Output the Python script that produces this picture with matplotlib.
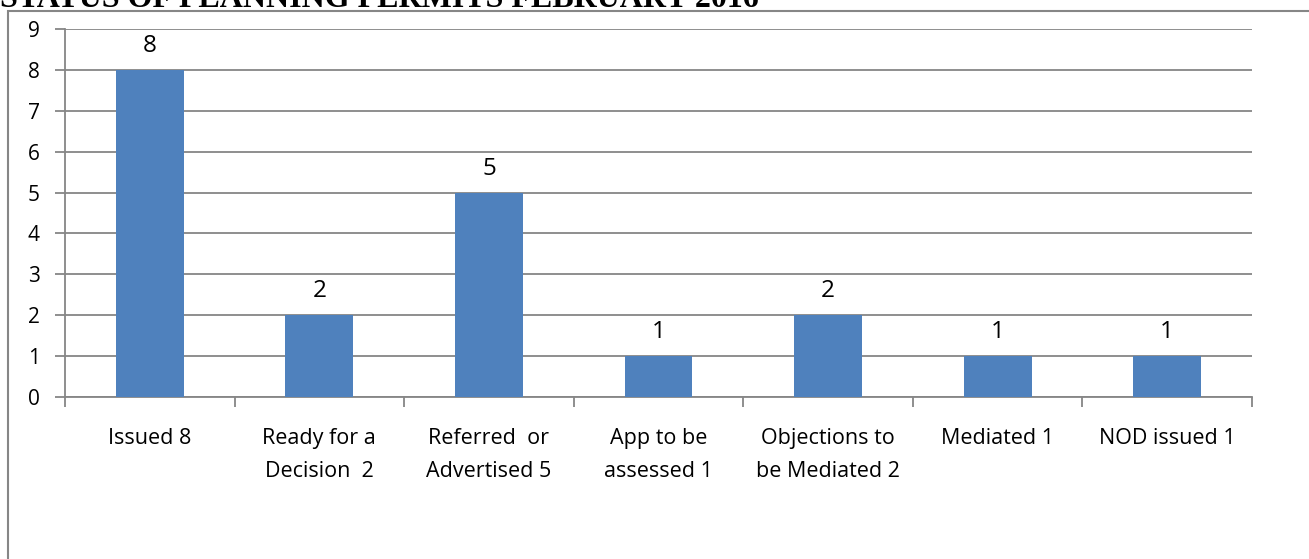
import matplotlib.pyplot as plt
from matplotlib.patches import Rectangle
import numpy

plt.rcParams["font.family"] = ["Open Sans", "DejaVu Sans"]

title = "STATUS OF PLANNING PERMITS FEBRUARY 2016"
categories = ["Issued 8", "Ready for a\nDecision  2", "Referred  or\nAdvertised 5",
              "App to be\nassessed 1", "Objections to\nbe Mediated 2", "Mediated 1", "NOD issued 1"]
values = [8, 2, 5, 1, 2, 1, 1]

W, H = 1309, 559
fig = plt.figure(figsize=(W / 100, H / 100), dpi=100)
ax = fig.add_axes([65 / W, 1 - 397 / H, (1252 - 65) / W, (397 - 29) / H])

grid_col = "#868686"
x = numpy.arange(len(values))
bars = ax.bar(x, values, width=0.4, color="#4F81BD", zorder=3)
for b, v in zip(bars, values):
    ax.annotate(str(v), (b.get_x() + b.get_width() / 2, v), xytext=(0, 8.5),
                textcoords="offset points", ha="center", va="bottom", fontsize=17.5)

ax.set_xlim(-0.5, len(values) - 0.5)
ax.set_ylim(0, 9)
ax.set_yticks(range(10))
ax.yaxis.grid(True, color=grid_col, linewidth=1.3, zorder=0)
ax.set_xticks(numpy.arange(-0.5, len(values)), minor=False)
ax.set_xticklabels([])
ax.set_xticks(x, minor=True)
ax.set_xticklabels(categories, minor=True, fontsize=15.5, linespacing=1.75)
ax.tick_params(axis="x", which="minor", length=0, pad=22)
ax.tick_params(axis="x", which="major", length=7, color=grid_col, width=1.3)
ax.tick_params(axis="y", length=7, color=grid_col, width=1.3, labelsize=15, pad=11)
for s in ["top", "right"]:
    ax.spines[s].set_visible(False)
for s in ["left", "bottom"]:
    ax.spines[s].set_color(grid_col)
    ax.spines[s].set_linewidth(1.3)

# outer chart frame
fig.patches.append(Rectangle((8 / W, -0.1), 1.1, 1.1 - 11 / H, transform=fig.transFigure,
                             fill=False, edgecolor=grid_col, linewidth=1.5))

# title is cut off at the top edge, as in the source
fig.text(0.0, 1 - 7 / H, title, ha="left", va="baseline", fontsize=23,
         fontweight="bold", family="Liberation Serif")

fig.savefig("out.png", dpi=100)
